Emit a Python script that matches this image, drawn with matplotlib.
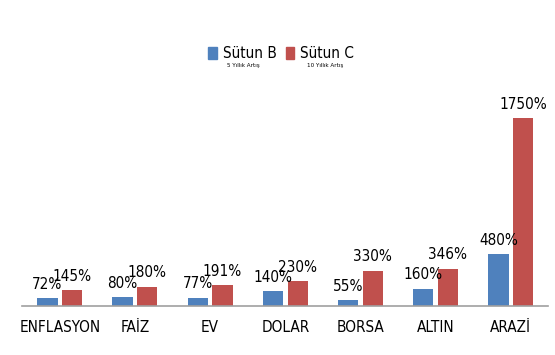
import matplotlib
matplotlib.use("Agg")
import matplotlib.pyplot as plt
from matplotlib.patches import Patch
import numpy as np

plt.rcParams['font.family'] = ['DejaVu Sans']
plt.rcParams['font.stretch'] = 'condensed'

categories = ["ENFLASYON", "FAİZ", "EV", "DOLAR", "BORSA", "ALTIN", "ARAZİ"]
sutun_b = [72, 80, 77, 140, 55, 160, 480]
sutun_c = [145, 180, 191, 230, 330, 346, 1750]

blue = "#4F81BD"
red = "#C0504D"

fig = plt.figure(figsize=(5.55, 3.55), dpi=100)
ax = fig.add_axes([0.04, 0.138, 0.948, 0.608])

x = np.arange(len(categories))
w = 0.27
off = 0.165
bars_b = ax.bar(x - off, sutun_b, w, color=blue)
bars_c = ax.bar(x + off, sutun_c, w, color=red)

for b, v in zip(bars_b, sutun_b):
    ax.text(b.get_x() + b.get_width() / 2, v + 60, f"{v}%", ha="center",
            va="bottom", fontsize=11)
for b, v in zip(bars_c, sutun_c):
    ax.text(b.get_x() + b.get_width() / 2, v + 60, f"{v}%", ha="center",
            va="bottom", fontsize=11)

ax.set_xlim(-0.5, 6.5)
ax.set_ylim(0, 2010)
ax.set_xticks(x)
ax.set_xticklabels(categories, fontsize=11)
ax.tick_params(axis="x", length=0, pad=10)
ax.set_yticks([])
for s in ["top", "right", "left"]:
    ax.spines[s].set_visible(False)
ax.spines["bottom"].set_color("#A0A0A0")
ax.spines["bottom"].set_linewidth(1.2)

handles = [Patch(color=blue, label="Sütun B"), Patch(color=red, label="Sütun C")]
fig.legend(handles=handles, loc="center", bbox_to_anchor=(0.507, 0.848), ncol=2,
           frameon=False, fontsize=11, handlelength=0.55, handleheight=0.8,
           handletextpad=0.4, columnspacing=0.6)
fig.text(243 / 555, 1 - 66 / 355, "5 Yıllık Artış", fontsize=4.5, ha="center", va="center")
fig.text(325 / 555, 1 - 66 / 355, "10 Yıllık Artış", fontsize=4.5, ha="center", va="center")

fig.savefig("out.png", dpi=100)
